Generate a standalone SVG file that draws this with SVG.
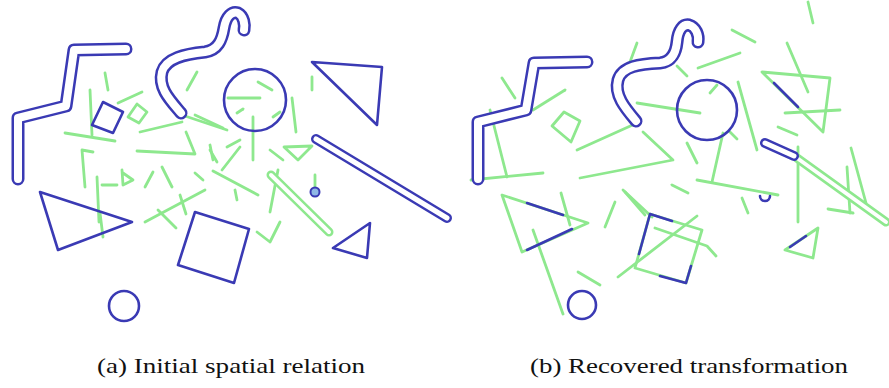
<svg xmlns="http://www.w3.org/2000/svg" width="889" height="388" viewBox="0 0 889 388">
<style>
.b{fill:none;stroke:#3a3ab4;stroke-width:2.6;stroke-linejoin:round;stroke-linecap:round}
.bo{fill:none;stroke:#3a3ab4;stroke-width:13;stroke-linejoin:round;stroke-linecap:round}
.bw{fill:none;stroke:#ffffff;stroke-width:8;stroke-linejoin:round;stroke-linecap:round}
.g{fill:none;stroke:#8ee88e;stroke-width:2.8;stroke-linejoin:round;stroke-linecap:round}
.go{fill:none;stroke:#8ee88e;stroke-width:9;stroke-linecap:round}
.gw{fill:none;stroke:#ffffff;stroke-width:4;stroke-linecap:round}
.cap{font-family:"Liberation Serif","DejaVu Serif",serif;font-size:21px;fill:#111}
</style>
<rect width="889" height="388" fill="#ffffff"/>

<!-- Panel (a) -->
<g id="panel-a">
  <g id="a-green">
    <path class="g" d="M105,73 L108,90"/>
    <path class="g" d="M90,90 L92,135"/>
    <path class="g" d="M118,103 L142,92"/>
    <polygon class="g" points="137,104 147,112 139,123 128,117"/>
    <path class="g" d="M65,133 L115,141"/>
    <path class="g" d="M140,132 L182,122"/>
    <path class="g" d="M137,151 L195,154 L186,132"/>
    <path class="g" d="M93,152 L82,150 L85,187"/>
    <path class="g" d="M97,177 L99,222"/>
    <path class="g" d="M102,185 L117,185"/>
    <path class="g" d="M123,185 L122,170 M123,173 L133,180 L123,185"/>
    <path class="g" d="M145,187 L153,172"/>
    <path class="g" d="M162,167 L172,187"/>
    <path class="g" d="M195,173 L203,180"/>
    <path class="g" d="M145,222 L205,190"/>
    <path class="g" d="M158,210 L176,228"/>
    <path class="g" d="M180,195 L186,214"/>
    <path class="g" d="M100,213 L103,237"/>
    <path class="g" d="M187,90 L197,72"/>
    <path class="g" d="M182,115 L227,130"/>
    <path class="g" d="M258,82 L272,90"/>
    <path class="g" d="M228,98 L260,98"/>
    <path class="g" d="M237,113 L243,109"/>
    <path class="g" d="M253,117 L253,160"/>
    <path class="g" d="M273,117 L280,112"/>
    <path class="g" d="M292,98 L296,132"/>
    <path class="g" d="M312,77 L312,90"/>
    <path class="g" d="M195,115 L223,128"/>
    <path class="g" d="M210,145 L213,160"/>
    <path class="g" d="M222,170 L240,147"/>
    <path class="g" d="M213,171 L258,195"/>
    <path class="g" d="M235,190 L237,200"/>
    <path class="g" d="M270,150 L283,160"/>
    <path class="g" d="M284,147 L298,160 L312,146 Z"/>
    <path class="g" d="M278,170 L270,212"/>
    <path class="g" d="M315,175 L315,187"/>
    <path class="g" d="M280,222 L270,242 L257,232"/>
    <path class="g" d="M210,150 L217,162"/>
    <path class="g" d="M227,147 L240,140"/>
    <path class="go" d="M271,175 L329,232"/>
    <path class="gw" d="M271,175 L329,232"/>
  </g>
  <g id="a-zigzag">
    <path class="bo" d="M18,179 L18,118 L66,106 L74,50 L126,49"/>
    <path class="bw" d="M18,179 L18,118 L66,106 L74,50 L126,49"/>
  </g>
  <g id="a-snake">
    <path class="bo" d="M181,113 C170,100 158,88 162,72 C166,58 185,54 205,52 C218,50 222,40 224,28 C226,16 232,11 238,13 C244,16 245,25 244,30"/>
    <path class="bw" d="M181,113 C170,100 158,88 162,72 C166,58 185,54 205,52 C218,50 222,40 224,28 C226,16 232,11 238,13 C244,16 245,25 244,30"/>
  </g>
  <g id="a-bar">
    <path class="bo" d="M316,139 L447,218" style="stroke-width:10"/>
    <path class="bw" d="M316,139 L447,218" style="stroke-width:5"/>
  </g>
  <circle id="a-circle" class="b" cx="255" cy="100" r="31"/>
  <polygon id="a-tri-top" class="b" points="312,62 382,67 377,125"/>
  <polygon id="a-square-small" class="b" points="103,102 123,112 113,133 92,125"/>
  <polygon id="a-tri-left" class="b" points="40,192 132,222 58,250"/>
  <polygon id="a-square" class="b" points="195,212 249,229 234,283 178,265"/>
  <circle id="a-circle-small" class="b" cx="124" cy="306" r="15"/>
  <circle id="a-dot" cx="315" cy="192" r="4.5" fill="#8fb8e6" stroke="#3a3ab4" stroke-width="2"/>
  <polygon id="a-tri-small" class="b" points="333,248 370,223 367,258"/>
</g>

<!-- Panel (b) -->
<g id="panel-b">
  <g id="b-green">
    <path class="g" d="M502,78 L515,98"/>
    <path class="g" d="M533,110 L565,90"/>
    <path class="g" d="M490,110 L507,177"/>
    <path class="g" d="M471,180 L543,173"/>
    <polygon class="g" points="552,126 564,112 580,121 571,142"/>
    <path class="g" d="M577,150 L637,123"/>
    <path class="g" d="M637,103 L700,113"/>
    <path class="g" d="M643,132 L673,160 L580,178"/>
    <path class="g" d="M637,43 L630,62"/>
    <path class="g" d="M677,66 L687,76"/>
    <path class="g" d="M698,68 L740,53"/>
    <path class="g" d="M732,30 L755,42"/>
    <path class="g" d="M808,2 L813,23"/>
    <path class="g" d="M738,82 L757,150"/>
    <path class="g" d="M710,93 L717,85"/>
    <path class="g" d="M723,133 L712,182"/>
    <path class="g" d="M730,132 L737,139"/>
    <path class="g" d="M687,143 L697,163"/>
    <path class="g" d="M697,180 L778,195"/>
    <path class="g" d="M672,185 L688,193"/>
    <path class="g" d="M742,198 L748,213"/>
    <path class="g" d="M778,127 L797,135"/>
    <path class="g" d="M785,113 L840,110"/>
    <path class="g" d="M787,43 L808,92"/>
    <polygon class="g" points="762,72 830,78 823,132"/>
    <path class="g" d="M798,147 L798,222"/>
    <path class="g" d="M851,148 L866,203"/>
    <path class="g" d="M847,167 L850,213"/>
    <path class="g" d="M828,209 L853,213"/>
    <polygon class="g" points="785,250 818,228 813,258"/>
    <polygon class="g" points="650,214 702,230 686,283 635,268"/>
    <path class="g" d="M623,190 L652,217"/>
    <path class="g" d="M618,277 L697,216"/>
    <path class="g" d="M655,228 L707,246 L716,256"/>
    <polygon class="g" points="502,195 588,223 522,252"/>
    <path class="g" d="M561,193 L570,225"/>
    <path class="g" d="M533,230 L563,314"/>
    <path class="g" d="M605,227 L615,202"/>
    <path class="g" d="M578,272 L600,285"/>
    <path class="g" d="M625,192 L645,215"/>
    <path class="go" d="M797,158 L886,222"/>
    <path class="gw" d="M797,158 L886,222"/>
  </g>
  <g id="b-zigzag">
    <path class="bo" d="M478,179 L478,122 L526,110 L534,63 L587,62"/>
    <path class="bw" d="M478,179 L478,122 L526,110 L534,63 L587,62"/>
  </g>
  <g id="b-snake">
    <path class="bo" d="M636,121 C625,108 614,95 618,80 C622,66 640,64 660,63 C672,62 676,52 677,42 C678,30 683,24 689,25 C696,27 699,35 698,42"/>
    <path class="bw" d="M636,121 C625,108 614,95 618,80 C622,66 640,64 660,63 C672,62 676,52 677,42 C678,30 683,24 689,25 C696,27 699,35 698,42"/>
  </g>
  <g id="b-bar">
    <path class="bo" d="M765,143 L794,156" style="stroke-width:10"/>
    <path class="bw" d="M765,143 L794,156" style="stroke-width:5"/>
  </g>
  <circle id="b-circle" class="b" cx="707" cy="110" r="30"/>
  <path id="b-tri-top" class="b" d="M774,83 L798,107"/>
  <path id="b-tri-small" class="b" d="M790,247 L806,236"/>
  <path id="b-square" class="b" d="M672,221 L650,214 L639,254 M660,276 L686,283 L691,266"/>
  <path id="b-tri-left" class="b" d="M527,203 L563,215 M527,250 L572,229"/>
  <circle id="b-circle-small" class="b" cx="582" cy="305" r="14"/>
  <path id="b-dot" class="b" d="M760,196 A5,5 0 0 0 770,196"/>
</g>

<text class="cap" x="231" y="373" text-anchor="middle" textLength="268" lengthAdjust="spacingAndGlyphs">(a) Initial spatial relation</text>
<text class="cap" x="689" y="373" text-anchor="middle" textLength="318" lengthAdjust="spacingAndGlyphs">(b) Recovered transformation</text>
</svg>
